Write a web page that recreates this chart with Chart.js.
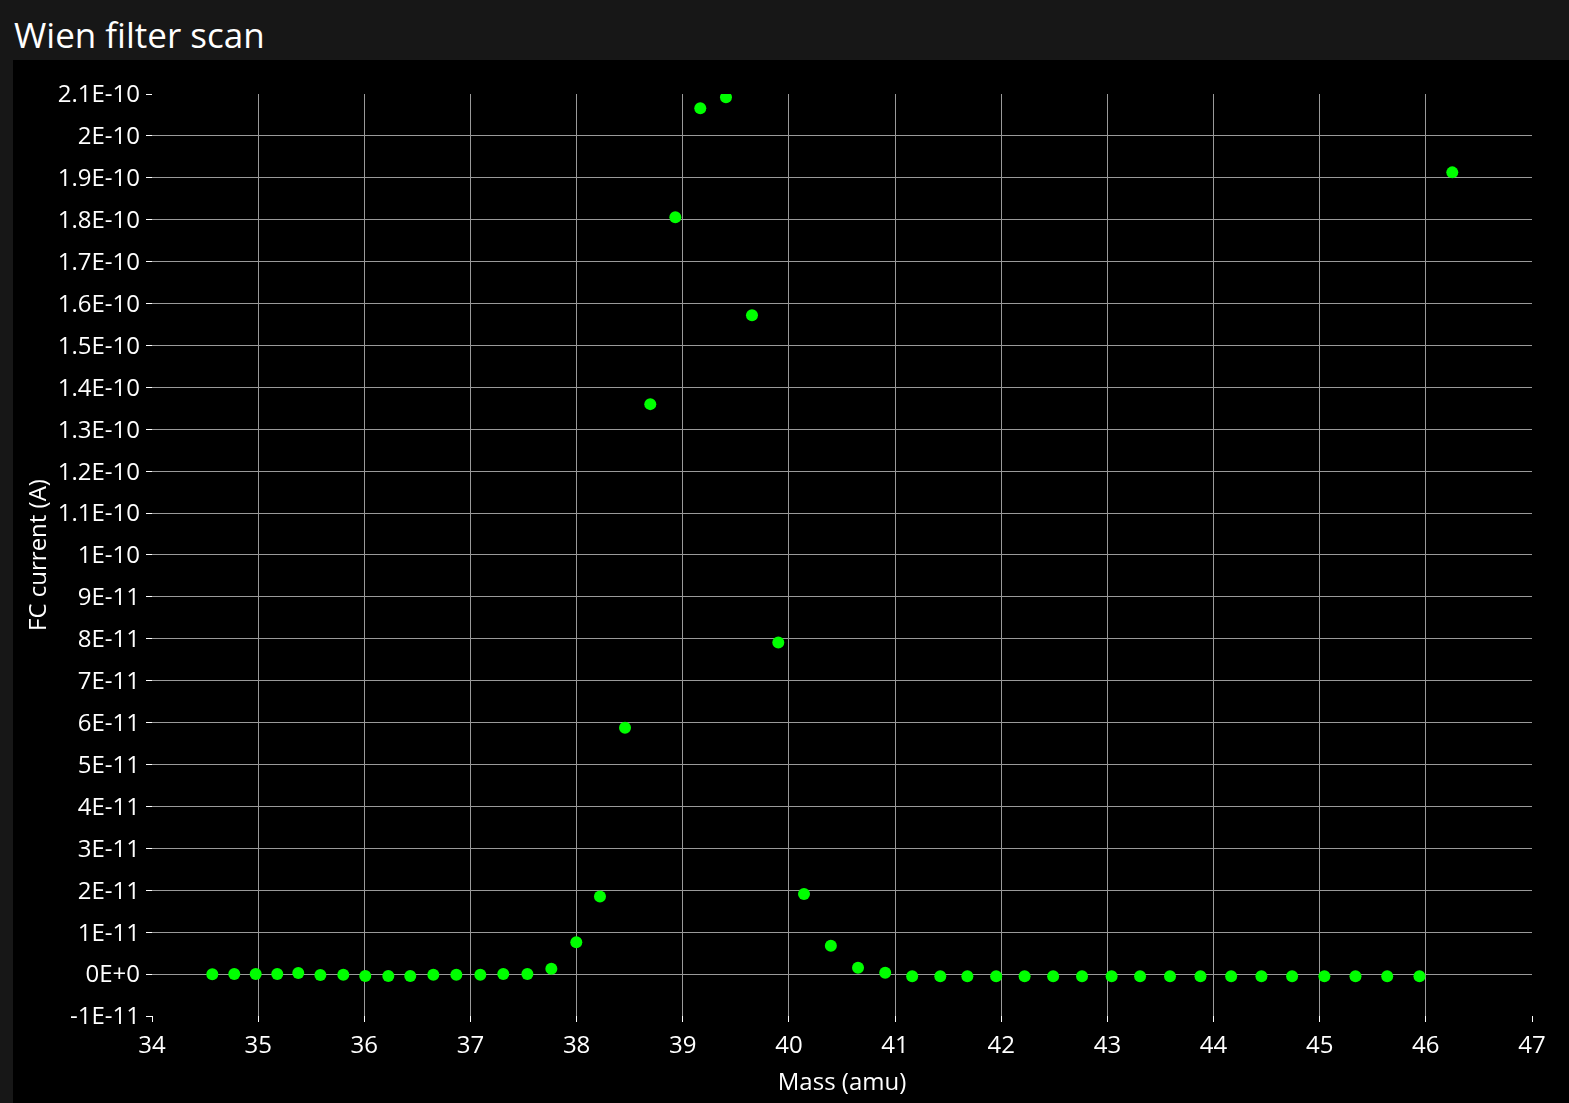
<!DOCTYPE html>
<html>
<head>
<meta charset="utf-8">
<script src="https://cdn.jsdelivr.net/npm/chart.js@4"></script>
<style>
  html, body { margin: 0; padding: 0; background: #171717; width: 1569px; height: 1103px; overflow: hidden; }
  #title { position: absolute; left: 14px; top: 17px; font-family: "Open Sans", sans-serif; font-size: 35px; line-height: 36px; color: #fff; }
  #panel { position: absolute; left: 13px; top: 60px; width: 1556px; height: 1043px; background: #000; }
</style>
</head>
<body>
<div id="title">Wien filter scan</div>
<div id="panel"><canvas id="myChart" width="1556" height="1043"></canvas></div>
<script>
// scan points: mass (amu) and Faraday cup current (A)
const massValues = [
  34.568, 34.775, 34.977, 35.180, 35.378, 35.586, 35.802, 36.009, 36.226, 36.433,
  36.650, 36.867, 37.093, 37.309, 37.536, 37.762, 37.997, 38.220, 38.456, 38.694,
  38.930, 39.165, 39.407, 39.652, 39.900, 40.142, 40.395, 40.651, 40.907, 41.161,
  41.426, 41.681, 41.952, 42.220, 42.489, 42.761, 43.040, 43.308, 43.590, 43.877,
  44.166, 44.451, 44.740, 45.044, 45.337, 45.636, 45.940, 46.249
];
const currentValues = [
  -0.2e-13, 0, 0, 0, 2.4e-13, -2.4e-13, -1.7e-13, -4.8e-13, -4.8e-13, -4.8e-13,
  -1.7e-13, -1.7e-13, -1.7e-13, 0, 0, 1.27e-12, 7.6e-12, 1.85e-11, 5.88e-11, 1.360e-10,
  1.806e-10, 2.066e-10, 2.092e-10, 1.572e-10, 7.91e-11, 1.91e-11, 6.76e-12, 1.5e-12, 3e-13, -5e-13,
  -5e-13, -5e-13, -5e-13, -5e-13, -5e-13, -5e-13, -5e-13, -5e-13, -5e-13, -5e-13,
  -5e-13, -5e-13, -5e-13, -5e-13, -5e-13, -5e-13, -5e-13, 1.913e-10
];

const xTickValues = [34, 35, 36, 37, 38, 39, 40, 41, 42, 43, 44, 45, 46, 47];
const xTickLabels = ['34', '35', '36', '37', '38', '39', '40', '41', '42', '43', '44', '45', '46', '47'];
const yTickValues = [
  -1e-11, 0, 1e-11, 2e-11, 3e-11, 4e-11, 5e-11, 6e-11, 7e-11, 8e-11, 9e-11, 1e-10,
  1.1e-10, 1.2e-10, 1.3e-10, 1.4e-10, 1.5e-10, 1.6e-10, 1.7e-10, 1.8e-10, 1.9e-10, 2e-10, 2.1e-10
];
const yTickLabels = [
  '-1E-11', '0E+0', '1E-11', '2E-11', '3E-11', '4E-11', '5E-11', '6E-11', '7E-11', '8E-11', '9E-11', '1E-10',
  '1.1E-10', '1.2E-10', '1.3E-10', '1.4E-10', '1.5E-10', '1.6E-10', '1.7E-10', '1.8E-10', '1.9E-10', '2E-10', '2.1E-10'
];

const points = massValues.map((m, i) => ({ x: m, y: currentValues[i] }));

// hide the grid lines on the outer edges, keep the tick marks
function gridColor(count) {
  return (ctx) => (ctx.index === 0 || ctx.index === count - 1) ? 'rgba(0,0,0,0)' : '#9a9a9a';
}

const tickFont = { family: 'Open Sans', size: 24 };

const ctx = document.getElementById('myChart');
new Chart(ctx, {
  type: 'scatter',
  data: {
    datasets: [{
      label: 'FC current',
      data: points,
      pointRadius: 6,
      pointHoverRadius: 6,
      pointBackgroundColor: '#00ff00',
      pointBorderWidth: 0,
      borderWidth: 0
    }]
  },
  options: {
    responsive: false,
    animation: false,
    events: [],
    layout: { padding: { left: 0, top: 34, right: 37, bottom: 0 } },
    plugins: { legend: { display: false }, tooltip: { enabled: false } },
    scales: {
      x: {
        type: 'linear',
        min: 34,
        max: 47,
        afterBuildTicks: (axis) => { axis.ticks = xTickValues.map(v => ({ value: v })); },
        afterFit: (axis) => { axis.height = 87; },
        ticks: {
          color: '#fff',
          font: tickFont,
          padding: 10,
          maxRotation: 0,
          callback: (v, i) => xTickLabels[i]
        },
        grid: { color: gridColor(xTickValues.length), tickColor: '#fff', tickLength: 6, lineWidth: 1 },
        border: { display: false },
        title: { display: true, text: 'Mass (amu)', color: '#fff', font: tickFont, padding: { top: 0, bottom: 5 } }
      },
      y: {
        type: 'linear',
        min: -1e-11,
        max: 2.1e-10,
        afterBuildTicks: (axis) => { axis.ticks = yTickValues.map(v => ({ value: v })); },
        afterFit: (axis) => { axis.width = 139; },
        ticks: {
          color: '#fff',
          font: tickFont,
          padding: 6,
          labelOffset: 1.5,
          callback: (v, i) => yTickLabels[i]
        },
        grid: { color: gridColor(yTickValues.length), tickColor: '#fff', tickLength: 6, lineWidth: 1 },
        border: { display: false },
        title: { display: true, text: 'FC current (A)', color: '#fff', font: tickFont, padding: { top: 12, bottom: 0 } }
      }
    }
  }
});
</script>
</body>
</html>
